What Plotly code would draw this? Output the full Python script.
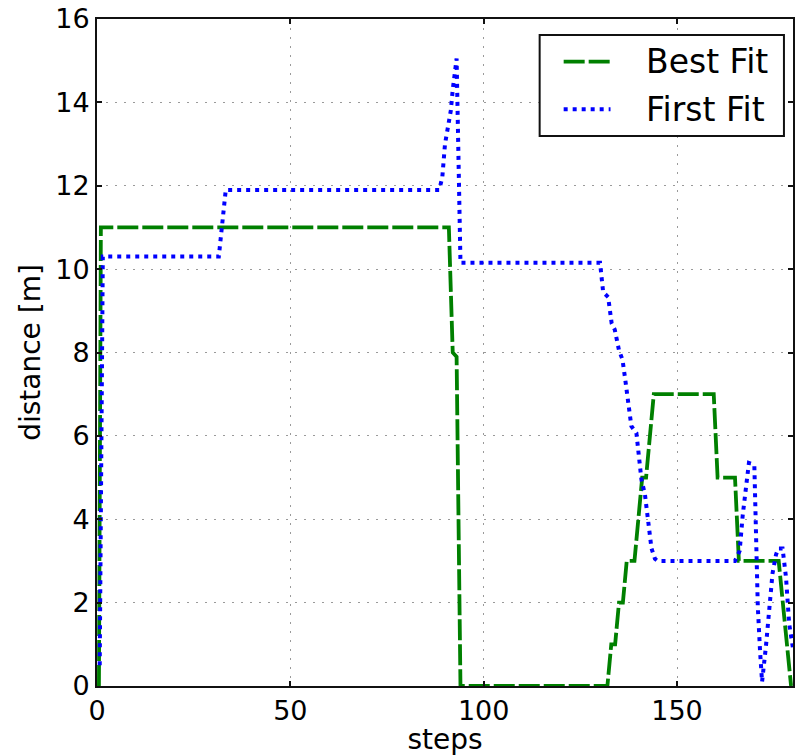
import plotly.graph_objects as go

# Distance travelled per step for two packing heuristics
best_fit_steps = [0.5, 1, 91, 92, 93, 94, 132, 133, 134, 135, 136, 137, 139, 141,
                  142, 143, 144, 159.5, 160.5, 165, 166, 176.3, 179.5]
best_fit_dist = [0, 11, 11, 8, 7.9, 0, 0, 1, 1, 2, 2, 3, 3, 5,
                 5, 6, 7, 7, 5, 5, 3, 3, 0]

first_fit_steps = [0.7, 1.5, 31.5, 33.3,
                   88.5, 89.3, 90, 91, 91.5, 92, 93, 94,
                   130.1, 130.9, 132.2, 133.1, 133.9, 135, 135.9, 136.5, 138.2, 139.5,
                   140.8, 141.7, 142.5, 143.4, 144.3, 145,
                   165, 166.2, 167, 167.9, 168.6, 170, 170.5, 170.9, 171.5, 172,
                   173, 173.9, 174.7, 175.6, 176.2, 177.3, 178.2, 179, 180]
first_fit_dist = [0.5, 10.3, 10.3, 11.9,
                  11.9, 12.2, 13.0, 13.6, 13.8, 14.3, 15.05, 10.15,
                  10.15, 9.45, 9.33, 8.7, 8.55, 8.05, 7.83, 7.43, 6.23, 6.07,
                  4.95, 4.6, 4.05, 3.3, 3.05, 3.0,
                  3.0, 3.24, 4.1, 4.8, 5.35, 5.3, 3.6, 1.9, 0.8, 0.1,
                  0.95, 2.0, 2.7, 3.15, 3.3, 3.3, 2.6, 1.5, 0.9]

x_ticks = [0, 50, 100, 150]
y_ticks = [0, 2, 4, 6, 8, 10, 12, 14, 16]
series_names = ["Best Fit", "First Fit"]

GREEN = "#008000"
BLUE = "#0000ff"
GREEN_DASH = "21px,4px"
BLUE_DASH = "4px,5px"
FONT = "DejaVu Sans"

fig = go.Figure()
fig.add_trace(go.Scatter(
    x=best_fit_steps, y=best_fit_dist, mode="lines", name=series_names[0],
    line=dict(color=GREEN, width=3.8, dash=GREEN_DASH), showlegend=False,
))
fig.add_trace(go.Scatter(
    x=first_fit_steps, y=first_fit_dist, mode="lines", name=series_names[1],
    line=dict(color=BLUE, width=4, dash=BLUE_DASH), showlegend=False,
))

axis_common = dict(
    showline=True, mirror="allticks", linecolor="#111111", linewidth=2,
    ticks="inside", ticklen=5, tickwidth=1.5, tickcolor="#111111",
    showgrid=True, gridcolor="#9a9a9a", griddash="2px,7px", gridwidth=1.3,
    zeroline=False, tickfont=dict(family=FONT, size=27, color="black"),
)

fig.update_xaxes(
    range=[0, 180], tickvals=x_ticks, ticktext=[str(v) for v in x_ticks],
    title=dict(text="steps", font=dict(family=FONT, size=28, color="black"), standoff=4),
    **axis_common,
)
fig.update_yaxes(
    range=[0, 16], tickvals=y_ticks, ticktext=[str(v) for v in y_ticks],
    title=dict(text="distance [m]", font=dict(family=FONT, size=28, color="black"), standoff=6),
    **axis_common,
)

# Legend box drawn in paper coordinates
box = dict(x0=0.636, x1=0.987, y0=0.8246, y1=0.976)
rows = [(0.936, GREEN, GREEN_DASH, 3.8), (0.8646, BLUE, BLUE_DASH, 4)]
shapes = [dict(type="rect", xref="paper", yref="paper", **box,
               line=dict(color="#111111", width=2), fillcolor="white", layer="above")]
annotations = []
for (ry, col, dash, w), name in zip(rows, series_names):
    shapes.append(dict(type="line", xref="paper", yref="paper",
                       x0=0.6705, x1=0.7378, y0=ry, y1=ry,
                       line=dict(color=col, width=w, dash=dash), layer="above"))
    annotations.append(dict(text=name, xref="paper", yref="paper", x=0.786, y=ry,
                            xanchor="left", yanchor="middle", showarrow=False,
                            font=dict(family=FONT, size=33, color="black")))

fig.update_layout(
    width=798, height=756,
    margin=dict(l=97, r=3, t=19, b=70),
    paper_bgcolor="white", plot_bgcolor="white",
    font=dict(family=FONT, color="black"),
    shapes=shapes, annotations=annotations,
    showlegend=False,
)

fig.write_html("out.html")
